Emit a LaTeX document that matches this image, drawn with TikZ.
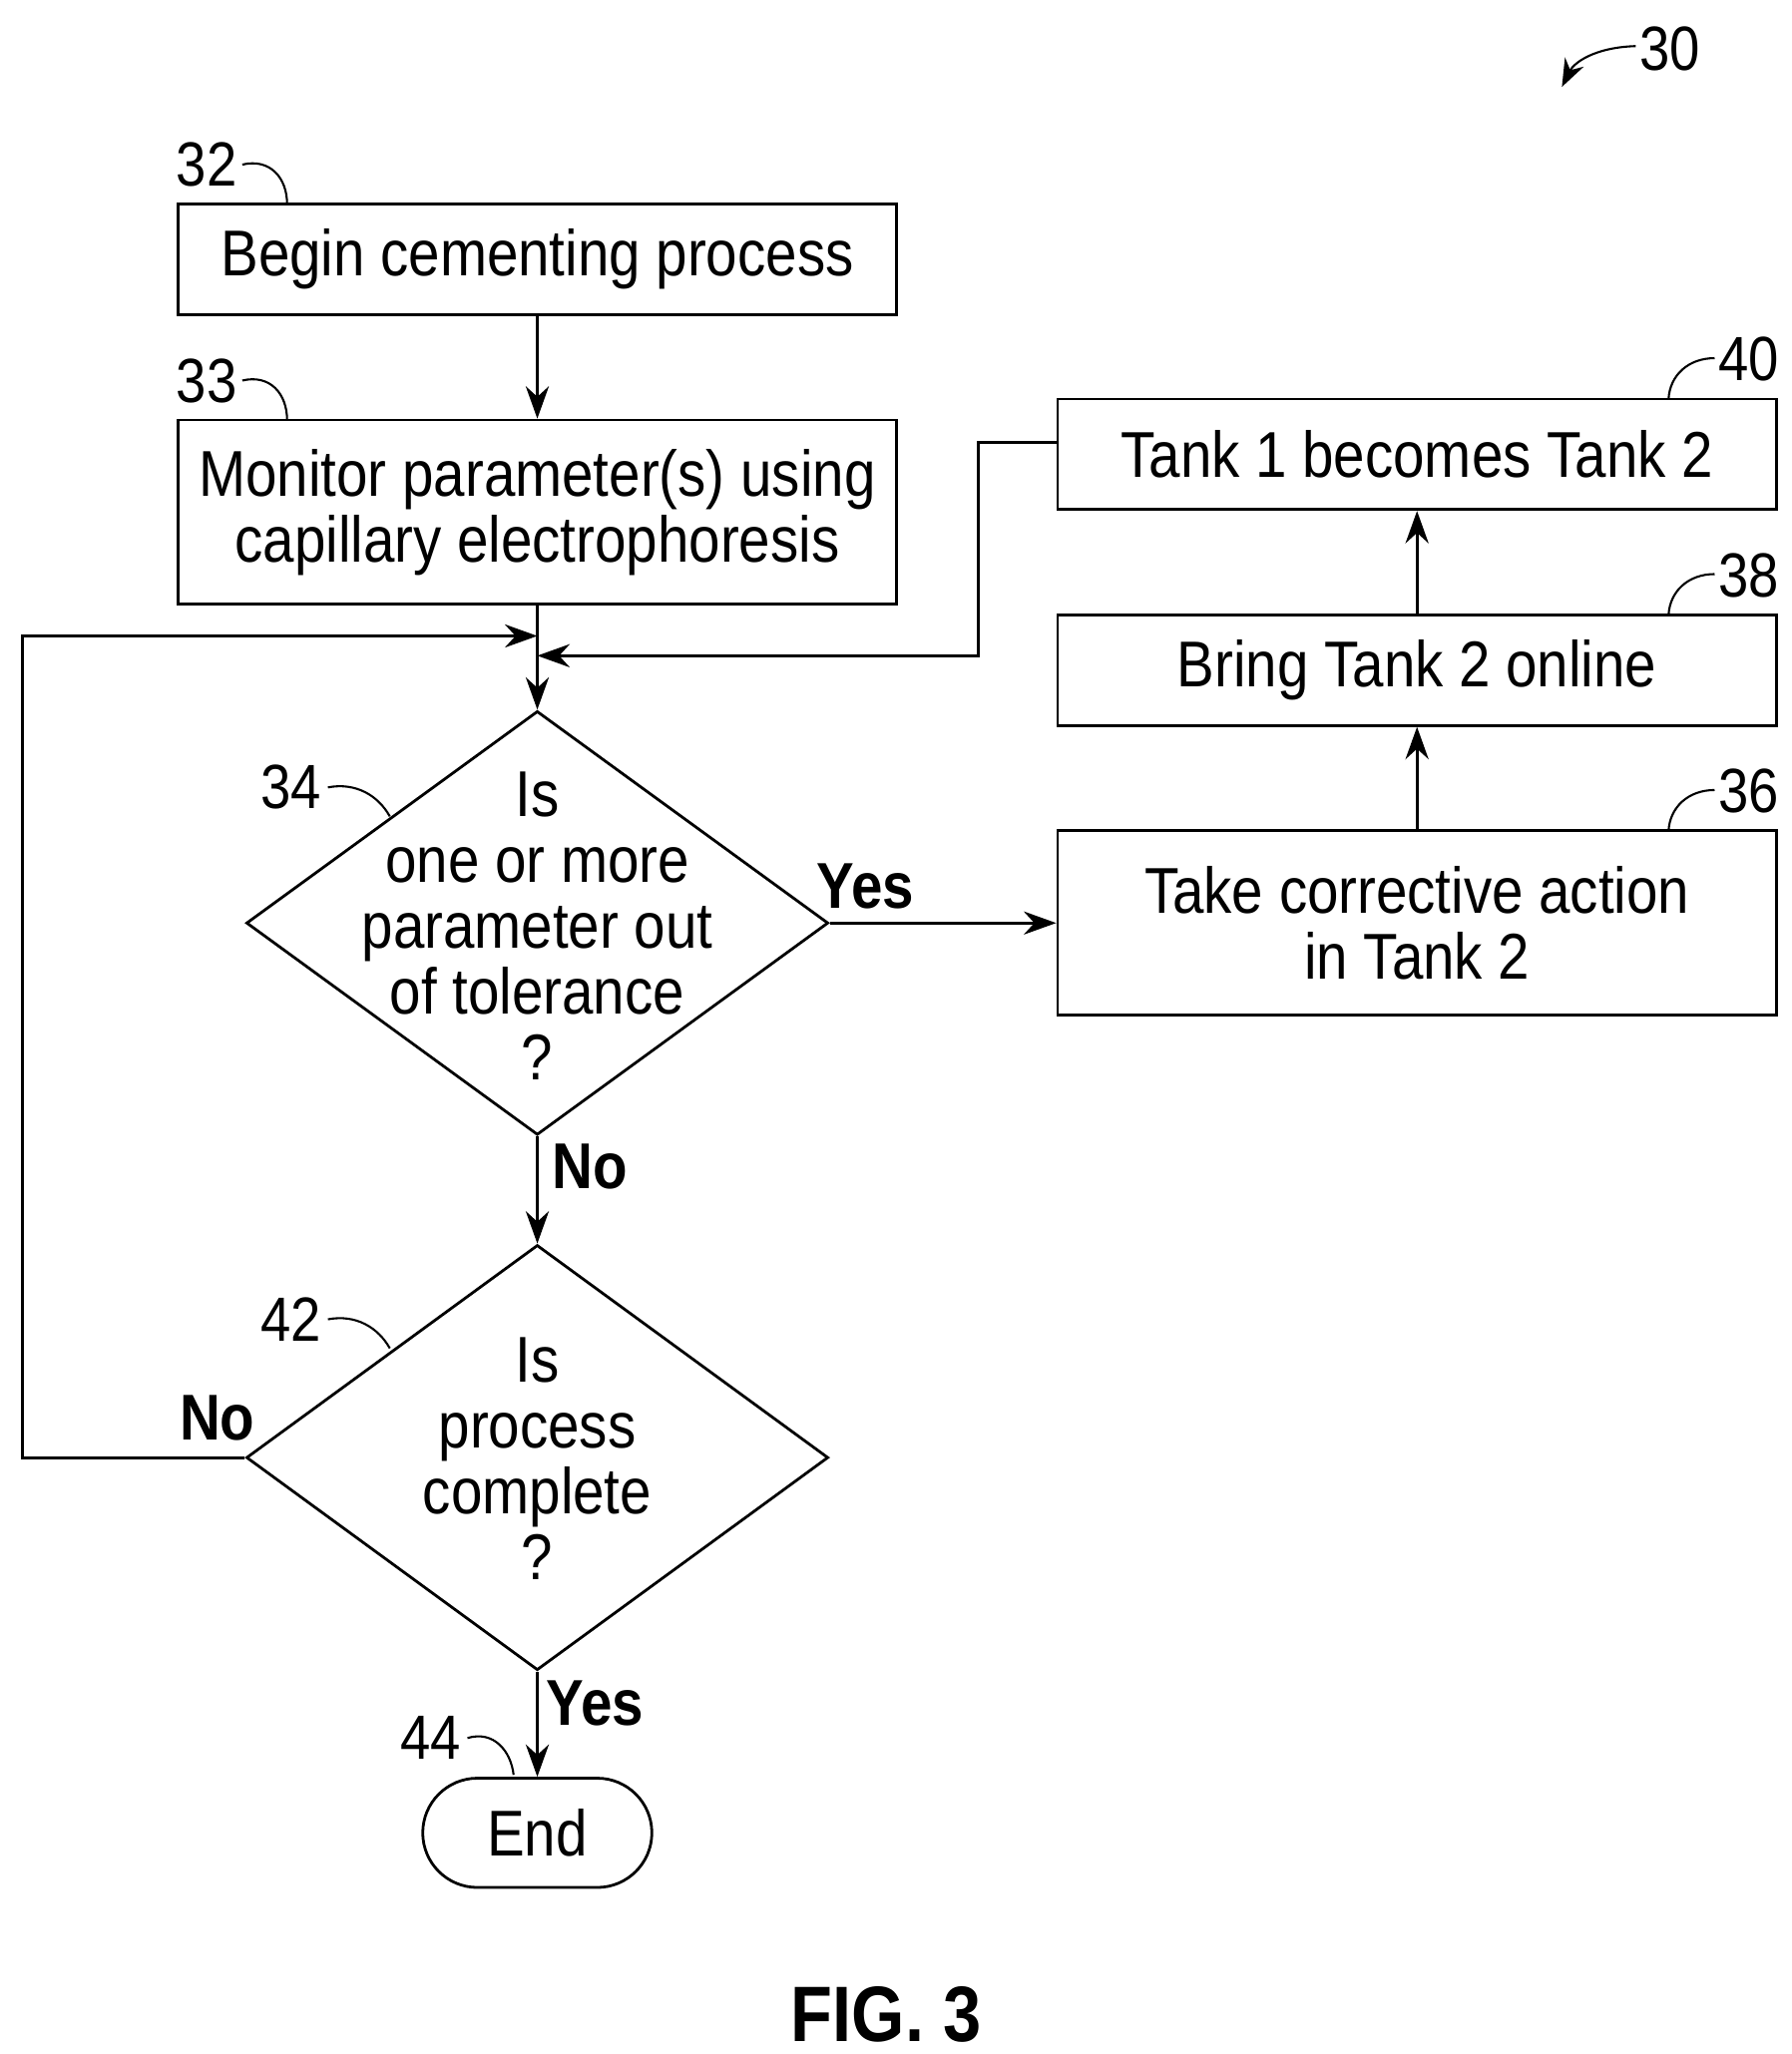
\documentclass[tikz,border=0pt]{standalone}
\usepackage{fontspec}
\setmainfont{Liberation Sans}[FakeStretch=0.87]
\usetikzlibrary{shapes.geometric,arrows.meta}
\begin{document}
\begin{tikzpicture}[x=0.02cm,y=-0.02cm,
  every node/.style={font=\fontsize{28}{28.5}\selectfont},
  box/.style={draw,line width=1.2pt,inner sep=0,align=center},
  ln/.style={line width=1.2pt},
  arr/.style={ln,-{Stealth[length=14pt,width=10pt]}},
  lbl/.style={font=\fontsize{28}{28}\selectfont\bfseries},
  ref/.style={font=\fontsize{27}{27}\selectfont},
  lead/.style={line width=0.9pt}]
\useasboundingbox (0,0) rectangle (1360,1560);
\node[box,minimum width=546\pgflinewidth*0+10.92cm,minimum height=1.68cm] (b32) at (408,197) {Begin cementing process};
\node[box,minimum width=10.92cm,minimum height=2.8cm] (b33) at (408,389) {Monitor parameter(s) using\\capillary electrophoresis};
\node[draw,diamond,line width=1.2pt,minimum width=8.84cm,minimum height=6.44cm,inner sep=0] (d34) at (408,701) {};
\node[align=center] (t34) at (408,703) {Is\\one or more\\parameter out\\of tolerance\\?};
\node[draw,diamond,line width=1.2pt,minimum width=8.84cm,minimum height=6.46cm,inner sep=0] (d42) at (408,1107) {};
\node[align=center] (t42) at (408,1108) {Is\\process\\complete\\?};
\node[box,rounded corners=0.83cm,minimum width=3.48cm,minimum height=1.66cm] (end) at (408,1392) {End};
\node[box,minimum width=10.92cm,minimum height=1.68cm] (b40) at (1076,345) {Tank 1 becomes Tank 2};
\node[box,minimum width=10.92cm,minimum height=1.68cm] (b38) at (1076,509) {Bring Tank 2 online};
\node[box,minimum width=10.92cm,minimum height=2.8cm] (b36) at (1076,701) {Take corrective action\\in Tank 2};
\coordinate (j1) at (408,483);
\coordinate (j2) at (408,498);
\draw[arr] (b32) -- (b33);
\draw[arr] (b33) -- (d34.north);
\draw[arr] (d34.east) -- (b36.west);
\draw[arr] (b36) -- (b38);
\draw[arr] (b38) -- (b40);
\draw[arr] (b40.west |- 0,336) -- (743,336) -- (743,498) -- (j2);
\draw[arr] (d34.south) -- (d42.north);
\draw[arr] (d42.south) -- (end.north);
\draw[arr] (d42.west) -- (17,1107) -- (17,483) -- (j1);
\node[lbl] at (657,673) {Yes};
\node[lbl] at (448,886) {No};
\node[lbl] at (165,1077) {No};
\node[lbl] at (452,1294) {Yes};
\node[ref] (r30) at (1268,37) {30};
\draw[lead,-{Stealth[length=12pt,width=9pt]}] (1242,35) .. controls (1210,36) and (1195,48) .. (1186,66);
\node[ref] (r32) at (157,125) {32};
\draw[lead] (184,125) .. controls (205,120) and (218,135) .. (218,155);
\node[ref] (r33) at (157,289) {33};
\draw[lead] (184,289) .. controls (205,284) and (218,299) .. (218,319);
\node[ref] (r34) at (221,598) {34};
\draw[lead] (249,598) .. controls (270,594) and (287,604) .. (296,620);
\node[ref] (r42) at (221,1002) {42};
\draw[lead] (249,1002) .. controls (270,998) and (287,1008) .. (296,1024);
\node[ref] (r44) at (327,1320) {44};
\draw[lead] (355,1320) .. controls (375,1314) and (388,1330) .. (390,1348);
\node[ref] (r40) at (1328,273) {40};
\draw[lead] (1302,272) .. controls (1282,272) and (1268,285) .. (1267,303);
\node[ref] (r38) at (1328,437) {38};
\draw[lead] (1302,436) .. controls (1282,436) and (1268,449) .. (1267,467);
\node[ref] (r36) at (1328,601) {36};
\draw[lead] (1302,600) .. controls (1282,600) and (1268,613) .. (1267,631);
\node[font=\fontsize{34}{34}\selectfont\bfseries] (fig) at (673,1530) {FIG. 3};
\end{tikzpicture}
\end{document}
